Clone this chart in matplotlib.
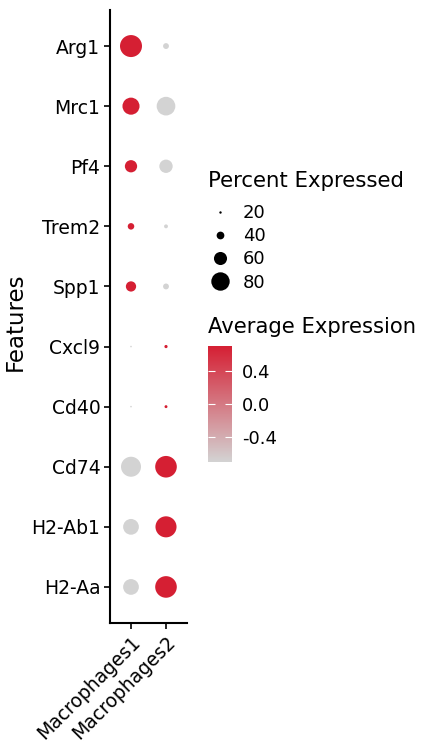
import matplotlib
matplotlib.use("Agg")
import matplotlib.pyplot as plt
from matplotlib.colors import LinearSegmentedColormap, Normalize
from matplotlib.lines import Line2D
import numpy as np

plt.rcParams['font.family'] = ['DejaVu Sans']

# data
features = ['Arg1', 'Mrc1', 'Pf4', 'Trem2', 'Spp1', 'Cxcl9', 'Cd40', 'Cd74', 'H2-Ab1', 'H2-Aa']
groups = ['Macrophages1', 'Macrophages2']
pct_m1 = [93.5, 75, 57, 35.5, 49.5, 12, 11, 86, 70, 70]
pct_m2 = [33, 81, 61, 25.5, 33, 23, 22, 92, 90, 92]
avg_m1 = [0.707, 0.707, 0.707, 0.707, 0.707, -0.707, -0.707, -0.707, -0.707, -0.707]
avg_m2 = [-0.707, -0.707, -0.707, -0.707, -0.707, 0.707, 0.707, 0.707, 0.707, 0.707]
legend_pct = [20, 40, 60, 80]
cbar_ticks = [-0.4, 0.0, 0.4]

RED = '#D51F33'
GREY = '#D3D3D3'
cmap = LinearSegmentedColormap.from_list('gr', [GREY, RED])
norm = Normalize(vmin=-0.707, vmax=0.707)

all_pct = pct_m1 + pct_m2
pmin, pmax = min(all_pct), max(all_pct)
DMAX = 22  # px diameter for max percent


def diam_pt(p):
    # radius scale (like scale_radius): linear from pmin -> 0 to pmax -> DMAX
    d = DMAX * (np.asarray(p, float) - pmin) / (pmax - pmin)
    return np.clip(d, 1.6, None) * 0.72


W, H = 421, 745
fig = plt.figure(figsize=(W / 100, H / 100), dpi=100)
ax = fig.add_axes([110 / W, (H - 623) / H, 77 / W, 613 / H])

ypos = np.arange(len(features))
for xi, (pcts, avgs) in enumerate([(pct_m1, avg_m1), (pct_m2, avg_m2)]):
    ax.scatter(np.full(len(features), xi), ypos, s=diam_pt(pcts) ** 2,
               c=avgs, cmap=cmap, norm=norm, linewidths=0, zorder=3)

ax.set_xlim(-0.6, 1.6)
ax.set_ylim(len(features) - 0.4, -0.6)
ax.set_yticks(ypos)
ax.set_yticklabels(features, fontsize=13.5)
ax.set_xticks([0, 1])
ax.set_xticklabels(groups, fontsize=13.5, rotation=45, ha='right', va='top',
                   rotation_mode='anchor')
ax.set_ylabel('Features', fontsize=16.5, labelpad=3.5)
ax.yaxis.label.set_y(0.491)
for s in ['top', 'right']:
    ax.spines[s].set_visible(False)
for s in ['left', 'bottom']:
    ax.spines[s].set_linewidth(1.5)
ax.tick_params(length=4, width=1.2, pad=3)

# size legend
fig.text(208 / W, 1 - 181 / H, 'Percent Expressed', fontsize=15.3, va='center', ha='left')
handles = [Line2D([], [], ls='', marker='o', color='black',
                  markersize=float(diam_pt(p)), markeredgewidth=0) for p in legend_pct]
leg = fig.legend(handles, [str(p) for p in legend_pct],
                 loc='upper left', bbox_to_anchor=(209 / W, 1 - 204 / H),
                 frameon=False, fontsize=13, handlelength=1.2, handletextpad=0.68,
                 labelspacing=0.29, borderpad=0, borderaxespad=0, markerscale=1)

# colorbar
fig.text(208 / W, 1 - 327 / H, 'Average Expression', fontsize=15.2, va='center', ha='left')
cax = fig.add_axes([208 / W, (H - 462) / H, 24 / W, 116 / H])
cb = fig.colorbar(plt.cm.ScalarMappable(norm=norm, cmap=cmap), cax=cax)
cb.outline.set_visible(False)
cb.set_ticks(cbar_ticks)
cb.set_ticklabels(['-0.4', '0.0', '0.4'])
cax.yaxis.set_ticks_position('both')
cax.tick_params(direction='in', color='white', length=5, width=0.8,
                labelsize=13, pad=7, labelleft=False, labelright=True)

fig.savefig('out.png', dpi=100)
